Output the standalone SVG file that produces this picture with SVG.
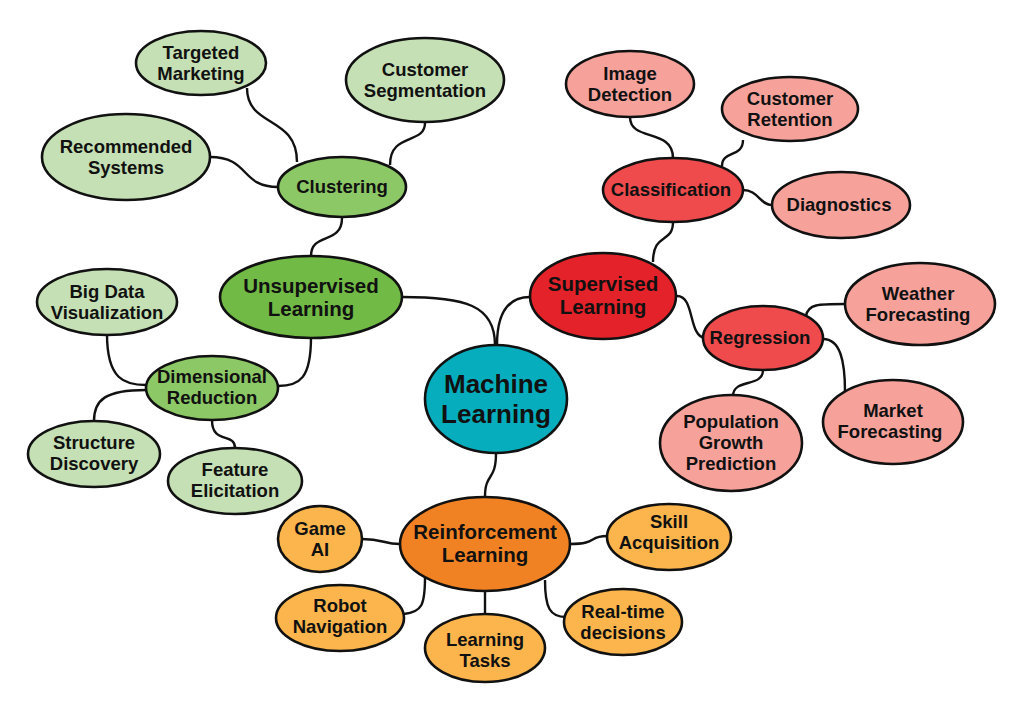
<svg xmlns="http://www.w3.org/2000/svg" width="1024" height="724" viewBox="0 0 1024 724">
<style>
ellipse{stroke:#111;stroke-width:2.6}
text{font-family:"Liberation Sans",Arial,sans-serif;font-weight:bold;fill:#111;text-anchor:middle;font-size:18.5px}
text.m{font-size:20.5px}
text.x{font-size:26px}
.c path{fill:none;stroke:#111;stroke-width:2.4}
.g1{fill:#c5e0b4}.g2{fill:#8cc866}.g3{fill:#70ba45}
.r1{fill:#f6a29b}.r2{fill:#ef4b4d}.r3{fill:#e42229}
.o1{fill:#fbb54c}.o3{fill:#f08223}
.ml{fill:#06adbd}
</style>
<rect width="1024" height="724" fill="#fff"/>
<g class="c" id="connectors">
<path d="M247,88 C247,128 297,115 297,162"/>
<path d="M425,123 C425,145 390,132 390,165"/>
<path d="M210,157 C250,157 240,187 278,187"/>
<path d="M342,218 C342,245 311,232 311,256"/>
<path d="M402,297 C465,297 495,305 495,345"/>
<path d="M530,297 C505,297 497,318 497,345"/>
<path d="M107,334 C107,380 125,385 146,385"/>
<path d="M311,337 C311,378 300,386 278,386"/>
<path d="M146,390 C105,390 94,400 94,421"/>
<path d="M212,420 C212,445 235,432 235,448"/>
<path d="M496,453 C496,482 485,472 485,497"/>
<path d="M653,262 C653,232 673,244 673,222"/>
<path d="M630,117 C630,142 673,128 673,158"/>
<path d="M743,140 C743,158 722,150 722,166"/>
<path d="M743,190 C758,190 760,205 772,205"/>
<path d="M677,296 C695,296 688,336 705,338"/>
<path d="M806,316 C808,304 818,304 845,304"/>
<path d="M823,339 C840,339 845,360 845,392"/>
<path d="M763,370 C763,388 733,378 733,396"/>
<path d="M400,544 C383,544 384,539 362,539"/>
<path d="M570,544 C598,544 588,536 607,536"/>
<path d="M425,577 C425,605 422,612 404,614"/>
<path d="M485,592 L485,614"/>
<path d="M545,580 C545,608 550,617 566,617"/>
</g>
<g id="machine-learning"><ellipse class="ml" cx="496" cy="399" rx="71" ry="54"/><text class="x" x="496" y="393">Machine</text><text class="x" x="496" y="423">Learning</text></g>
<g id="unsupervised"><ellipse class="g3" cx="311" cy="297" rx="91" ry="41"/><text class="m" x="311" y="293">Unsupervised</text><text class="m" x="311" y="316">Learning</text></g>
<g id="clustering"><ellipse class="g2" cx="342" cy="187" rx="64" ry="30"/><text x="342" y="193">Clustering</text></g>
<g id="targeted-marketing"><ellipse class="g1" cx="201" cy="63" rx="65" ry="32"/><text x="201" y="59">Targeted</text><text x="201" y="80">Marketing</text></g>
<g id="customer-segmentation"><ellipse class="g1" cx="425" cy="80" rx="79" ry="42"/><text x="425" y="76">Customer</text><text x="425" y="97">Segmentation</text></g>
<g id="recommended-systems"><ellipse class="g1" cx="126" cy="157" rx="84" ry="43"/><text x="126" y="153">Recommended</text><text x="126" y="174">Systems</text></g>
<g id="big-data"><ellipse class="g1" cx="107" cy="302" rx="70" ry="33"/><text x="107" y="298">Big Data</text><text x="107" y="319">Visualization</text></g>
<g id="dimensional-reduction"><ellipse class="g2" cx="212" cy="388" rx="66" ry="32"/><text x="212" y="383">Dimensional</text><text x="212" y="404">Reduction</text></g>
<g id="structure-discovery"><ellipse class="g1" cx="94" cy="454" rx="66" ry="33"/><text x="94" y="449">Structure</text><text x="94" y="470">Discovery</text></g>
<g id="feature-elicitation"><ellipse class="g1" cx="235" cy="481" rx="67" ry="33"/><text x="235" y="476">Feature</text><text x="235" y="497">Elicitation</text></g>
<g id="supervised"><ellipse class="r3" cx="603" cy="296" rx="73" ry="43"/><text class="m" x="603" y="291">Supervised</text><text class="m" x="603" y="314">Learning</text></g>
<g id="classification"><ellipse class="r2" cx="673" cy="190" rx="70" ry="32"/><text x="671" y="196">Classification</text></g>
<g id="image-detection"><ellipse class="r1" cx="630" cy="84" rx="64" ry="33"/><text x="630" y="80">Image</text><text x="630" y="101">Detection</text></g>
<g id="customer-retention"><ellipse class="r1" cx="790" cy="109" rx="68" ry="32"/><text x="790" y="105">Customer</text><text x="790" y="126">Retention</text></g>
<g id="diagnostics"><ellipse class="r1" cx="841" cy="205" rx="69" ry="33"/><text x="839" y="211">Diagnostics</text></g>
<g id="regression"><ellipse class="r2" cx="763" cy="338" rx="60" ry="32"/><text x="760" y="344">Regression</text></g>
<g id="weather-forecasting"><ellipse class="r1" cx="920" cy="304" rx="75" ry="41"/><text x="918" y="300">Weather</text><text x="918" y="321">Forecasting</text></g>
<g id="market-forecasting"><ellipse class="r1" cx="893" cy="422" rx="70" ry="42"/><text x="893" y="417">Market</text><text x="890" y="438">Forecasting</text></g>
<g id="population-growth"><ellipse class="r1" cx="731" cy="443" rx="71" ry="48"/><text x="731" y="428">Population</text><text x="731" y="449">Growth</text><text x="731" y="470">Prediction</text></g>
<g id="reinforcement"><ellipse class="o3" cx="485" cy="544" rx="85" ry="47"/><text class="m" x="485" y="539">Reinforcement</text><text class="m" x="485" y="562">Learning</text></g>
<g id="game-ai"><ellipse class="o1" cx="320" cy="539" rx="42" ry="33"/><text x="320" y="535">Game</text><text x="320" y="556">AI</text></g>
<g id="skill-acquisition"><ellipse class="o1" cx="669" cy="537" rx="62" ry="33"/><text x="669" y="528">Skill</text><text x="669" y="549">Acquisition</text></g>
<g id="robot-navigation"><ellipse class="o1" cx="340" cy="618" rx="64" ry="33"/><text x="340" y="612">Robot</text><text x="340" y="633">Navigation</text></g>
<g id="learning-tasks"><ellipse class="o1" cx="485" cy="648" rx="60" ry="34"/><text x="485" y="646">Learning</text><text x="485" y="667">Tasks</text></g>
<g id="real-time-decisions"><ellipse class="o1" cx="623" cy="622" rx="59" ry="33"/><text x="623" y="618">Real-time</text><text x="623" y="639">decisions</text></g>
</svg>
